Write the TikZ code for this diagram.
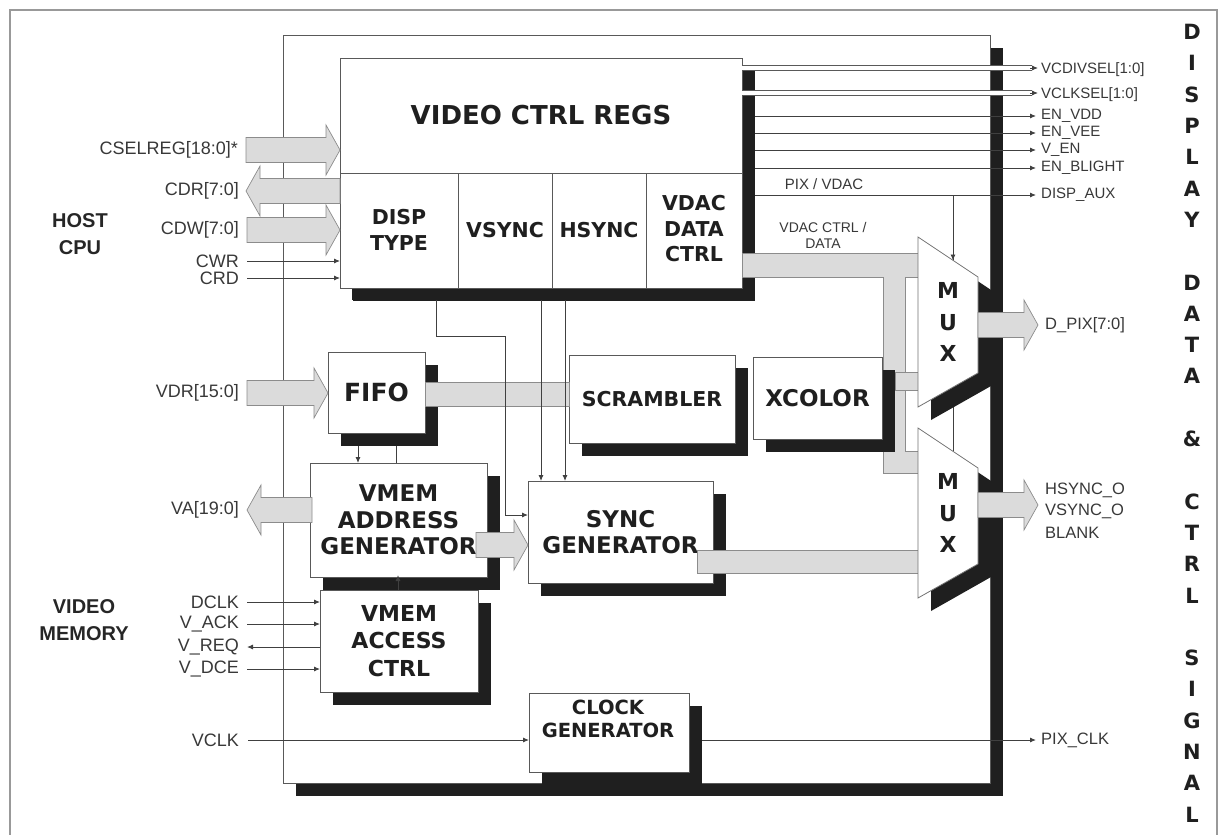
\documentclass[tikz,border=0pt]{standalone}
\usepackage{fontspec}
\setmainfont{Liberation Sans}
\newfontfamily\bxf{DejaVu Sans}
\usetikzlibrary{arrows.meta,shadows,calc}
% right-pointing block bus arrow: start, tip
\newcommand\busR[2]{\path[bus] let \p1=#1, \p2=#2 in
  (\x1,{\y1+12.5pt}) -- ({\x2-14pt},{\y1+12.5pt}) -- ({\x2-14pt},{\y1+25pt}) -- (\x2,\y1)
  -- ({\x2-14pt},{\y1-25pt}) -- ({\x2-14pt},{\y1-12.5pt}) -- (\x1,{\y1-12.5pt}) -- cycle;}
% left-pointing block bus arrow: start (right end), tip (left end)
\newcommand\busL[2]{\path[bus] let \p1=#1, \p2=#2 in
  (\x1,{\y1+12.5pt}) -- ({\x2+14pt},{\y1+12.5pt}) -- ({\x2+14pt},{\y1+25pt}) -- (\x2,\y1)
  -- ({\x2+14pt},{\y1-25pt}) -- ({\x2+14pt},{\y1-12.5pt}) -- (\x1,{\y1-12.5pt}) -- cycle;}
\begin{document}
\begin{tikzpicture}[x=1pt,y=-1pt,
  sig/.style={draw=black!75, line width=0.9pt},
  arr/.style={sig, -{Latex[length=6pt,width=5pt]}},
  bus/.style={fill=black!14, draw=black!45, line width=0.7pt},
  dbl/.style={draw=black!65, line width=0.8pt, double=white, double distance=4pt},
  blk/.style={draw=black!65, line width=0.8pt, fill=white, inner sep=0pt, outer sep=0pt,
    anchor=north west, align=center, text=black!88,
    drop shadow={shadow xshift=13pt, shadow yshift=-13pt, fill=black!88, opacity=1}},
  muxs/.style={fill=white, draw=black!55, line width=0.8pt},
  lblL/.style={anchor=east, font=\fontsize{18}{20}\selectfont, text=black!78, inner sep=0pt},
  lblR/.style={anchor=west, font=\fontsize{15}{16}\selectfont, text=black!78, inner sep=0pt},
  lblR2/.style={anchor=west, font=\fontsize{16.5}{18}\selectfont, text=black!78, inner sep=0pt},
  small/.style={font=\fontsize{15}{17}\selectfont, text=black!78, inner sep=0pt, align=center},
  tVCR/.style={font=\bxf\bfseries\fontsize{26}{30}\selectfont, text=black!88},
  tFIFO/.style={font=\bxf\bfseries\fontsize{25}{29}\selectfont},
  tBig/.style={font=\bxf\bfseries\fontsize{23}{26.5}\selectfont},
  tAC/.style={font=\bxf\bfseries\fontsize{22}{27.5}\selectfont},
  tCell/.style={font=\bxf\bfseries\fontsize{20.5}{25.5}\selectfont, text=black!88, align=center, inner sep=0pt},
  tScr/.style={font=\bxf\bfseries\fontsize{20.5}{24}\selectfont},
  tClk/.style={font=\bxf\bfseries\fontsize{19.5}{23}\selectfont, text=black!88, align=center, inner sep=0pt},
  tMux/.style={font=\bxf\bfseries\fontsize{22}{31.5}\selectfont, text=black!88, align=center, inner sep=0pt},
  tCol/.style={font=\bxf\bfseries\fontsize{21}{24}\selectfont, text=black!88, inner sep=0pt},
  tHost/.style={font=\bfseries\fontsize{20}{27}\selectfont, text=black!85, align=center, inner sep=0pt}
]
\useasboundingbox (0,0) rectangle (1219,835);
% outer frame
\draw[black!40, line width=2.5pt] (10,850) -- (10,10) -- (1217,10) -- (1217,850);

% chip
\node[blk, minimum width=707pt, minimum height=748pt] (chip) at (283,35) {};

% video control registers
\node[blk, minimum width=402pt, minimum height=230pt, drop shadow={shadow xshift=12pt, shadow yshift=-12pt, fill=black!88, opacity=1}] (regs) at (340,58) {};
\draw[draw=black!65, line width=0.8pt] (340,173) -- (742,173)
  (458,173) -- (458,288) (552,173) -- (552,288) (646,173) -- (646,288);
\node[tVCR] (tregs) at (541,115) {VIDEO CTRL REGS};
\node[tCell] (cdisp) at (399,230) {DISP\\TYPE};
\node[tCell] (cvs) at (505,230) {VSYNC};
\node[tCell] (chs) at (599,230) {HSYNC};
\node[tCell] (cvdac) at (694,229) {VDAC\\DATA\\CTRL};

% VDAC data bus (T to both muxes)
\path[bus] (742,253) -- (918,253) -- (918,277) -- (905,277) -- (905,451) -- (918,451)
  -- (918,473) -- (883,473) -- (883,277) -- (742,277) -- cycle;

% blocks
\node[blk, tFIFO, minimum width=97pt, minimum height=81pt] (fifo) at (328,352) {FIFO};
\node[blk, tScr, minimum width=166pt, minimum height=88pt] (scr) at (569,355) {SCRAMBLER};
\node[blk, tBig, minimum width=129pt, minimum height=82pt] (xcol) at (753,357) {XCOLOR};
\node[blk, tBig, minimum width=177pt, minimum height=114pt] (vag) at (310,463) {VMEM\\ADDRESS\\GENERATOR};
\node[blk, tBig, minimum width=185pt, minimum height=102pt] (sync) at (528,481) {SYNC\\GENERATOR};
\node[blk, tAC, minimum width=158pt, minimum height=102pt] (vac) at (320,590) {VMEM\\ACCESS\\CTRL};
\node[blk, minimum width=160pt, minimum height=79pt] (clk) at (529,693) {};
\node[tClk] (tclk) at (608,719) {CLOCK\\GENERATOR};

% internal buses
\path[bus] (425,382) rectangle (569,406);
\path[bus] (895,372) rectangle (918,390);
\path[bus] (697,550) rectangle (918,573);
\coordinate (vs) at (476,545);
\busR{(vs)}{(vs -| sync.west)}

% left labels
\node[lblL] (lcsel) at (238,150) {CSELREG[18:0]*};
\node[lblL] (lcdr) at (239,191) {CDR[7:0]};
\node[lblL] (lcdw) at (239,230) {CDW[7:0]};
\node[lblL] (lcwr) at (239,261) {CWR};
\node[lblL] (lcrd) at (239,278) {CRD};
\node[lblL] (lvdr) at (239,393) {VDR[15:0]};
\node[lblL] (lva) at (239,510) {VA[19:0]};
\node[lblL] (ldclk) at (239,602) {DCLK};
\node[lblL] (lvack) at (239,624) {V\_ACK};
\node[lblL] (lvreq) at (239,647) {V\_REQ};
\node[lblL] (lvdce) at (239,669) {V\_DCE};
\node[lblL] (lvclk) at (239,740) {VCLK};
\node[tHost] (host) at (80,234) {HOST\\CPU};
\node[tHost] (vmem) at (84,620) {VIDEO\\MEMORY};

% left buses
\busR{([xshift=8pt]lcsel.east)}{(lcsel.east -| regs.west)}
\busL{(lcdr.east -| regs.west)}{([xshift=7pt]lcdr.east)}
\busR{([xshift=8pt]lcdw.east)}{(lcdw.east -| regs.west)}
\busR{([xshift=8pt]lvdr.east)}{(lvdr.east -| fifo.west)}
\busL{([xshift=2pt]lva.east -| vag.west)}{([xshift=8pt]lva.east)}

% left signals
\draw[arr] ([xshift=8pt]lcwr.east) -- (lcwr.east -| regs.west);
\draw[arr] ([xshift=8pt]lcrd.east) -- (lcrd.east -| regs.west);
\draw[arr] ([xshift=8pt]ldclk.east) -- (ldclk.east -| vac.west);
\draw[arr] ([xshift=8pt]lvack.east) -- (lvack.east -| vac.west);
\draw[arr] (lvreq.east -| vac.west) -- ([xshift=8pt]lvreq.east);
\draw[arr] ([xshift=8pt]lvdce.east) -- (lvdce.east -| vac.west);
\draw[arr] ([xshift=9pt]lvclk.east) -- (lvclk.east -| clk.west);

% internal control lines
\draw[arr] (436,300) -- (436,336) -- (505,336) -- (505,515) -- (528,515);
\draw[arr] (541,300) -- (541,481);
\draw[arr] (565,300) -- (565,481);
\draw[arr] (358,446) -- (358,463);
\draw[sig] (396,446) -- (396,463);
\draw[arr] (398,590) -- (398,575);

% right labels
\node[lblR] (lvcd) at (1041,70) {VCDIVSEL[1:0]};
\node[lblR] (lvck) at (1041,95) {VCLKSEL[1:0]};
\node[lblR] (lvdd) at (1041,116) {EN\_VDD};
\node[lblR] (lvee) at (1041,133) {EN\_VEE};
\node[lblR] (lven) at (1041,150) {V\_EN};
\node[lblR] (lbl) at (1041,168) {EN\_BLIGHT};
\node[lblR] (laux) at (1041,195) {DISP\_AUX};
\node[lblR2] (ldpix) at (1045,325) {D\_PIX[7:0]};
\node[lblR2] (lhs) at (1045,490) {HSYNC\_O};
\node[lblR2] (lvs) at (1045,511) {VSYNC\_O};
\node[lblR2] (lblank) at (1045,533) {BLANK};
\node[lblR2] (lpclk) at (1041,740) {PIX\_CLK};
\node[small] (lpix) at (824,184) {PIX / VDAC};
\node[small, font=\fontsize{14}{16}\selectfont] (lvdacd) at (823,235) {VDAC CTRL /\\DATA};

% register outputs
\draw[dbl] (742,68) -- (1032,68);
\draw[dbl] (742,93) -- (1032,93);
\draw[arr] (1030,68) -- (1038,68);
\draw[arr] (1030,93) -- (1038,93);
\foreach \n in {lvdd,lvee,lven,lbl,laux}
  \draw[arr] ($(regs.east |- \n.west)+(13,0)$) -- ([xshift=-5pt]\n.west);
\draw[sig] (953,195) -- (953,451);
\draw[arr] ($(clk.east |- lpclk.west)+(13,0)$) -- ([xshift=-5pt]lpclk.west);

% multiplexers
\coordinate (m1a) at (918,237); \coordinate (m1b) at (978,277);
\coordinate (m1c) at (978,373); \coordinate (m1d) at (918,407);
\coordinate (m2a) at (918,428); \coordinate (m2b) at (978,468);
\coordinate (m2c) at (978,564); \coordinate (m2d) at (918,598);
\fill[black!88] ($(m1a)+(13,13)$) -- ($(m1b)+(13,13)$) -- ($(m1c)+(13,13)$) -- ($(m1d)+(13,13)$) -- cycle;
\fill[black!88] ($(m2a)+(13,13)$) -- ($(m2b)+(13,13)$) -- ($(m2c)+(13,13)$) -- ($(m2d)+(13,13)$) -- cycle;
\draw[muxs] (m1a) -- (m1b) -- (m1c) -- (m1d) -- cycle;
\draw[muxs] (m2a) -- (m2b) -- (m2c) -- (m2d) -- cycle;
\node[tMux] (mux1) at (948,322) {M\\U\\X};
\node[tMux] (mux2) at (948,513) {M\\U\\X};
\draw[arr] (953,244) -- (953,260.5);

% outputs
\busR{(978,325)}{([xshift=-7pt]ldpix.west)}
\coordinate (hs) at (978,505);
\busR{(hs)}{(1038,505)}

% right column title
\foreach \ch [count=\i] in {D,I,S,P,L,A,Y,,D,A,T,A,,\&,,C,T,R,L,,S,I,G,N,A,L}
  \node[tCol] (col\i) at (1192,{32+31.3*(\i-1)}) {\ch};
\end{tikzpicture}
\end{document}
